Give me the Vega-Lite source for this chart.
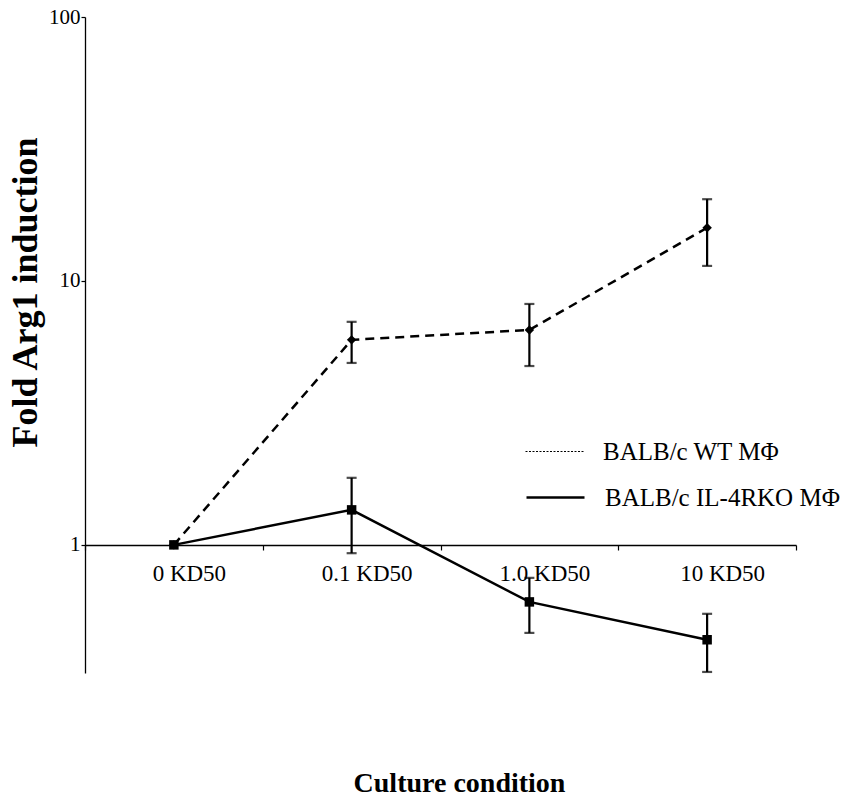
{
  "$schema": "https://vega.github.io/schema/vega-lite/v6.json",
  "width": 711,
  "height": 656,
  "autosize": {"type": "none"},
  "padding": {"left": 85, "top": 17, "right": 62, "bottom": 125},
  "background": "white",
  "config": {
    "view": {"stroke": null},
    "font": "Liberation Serif",
    "legend": {
      "orient": "none",
      "title": null,
      "padding": 0,
      "labelFont": "Liberation Serif",
      "labelFontSize": 25,
      "labelColor": "black",
      "labelOffset": 33.5,
      "labelLimit": 0,
      "symbolType": "M-2,0H2",
      "symbolSize": 841,
      "symbolStrokeColor": "black",
      "symbolFillColor": "transparent"
    }
  },
  "data": {
    "values": [
      {"condition": "0 KD50", "group": "BALB/c WT MΦ", "value": 1, "lo": null, "hi": null},
      {"condition": "0.1 KD50", "group": "BALB/c WT MΦ", "value": 5.98, "lo": 4.89, "hi": 7.0},
      {"condition": "1.0 KD50", "group": "BALB/c WT MΦ", "value": 6.52, "lo": 4.76, "hi": 8.18},
      {"condition": "10 KD50", "group": "BALB/c WT MΦ", "value": 15.9, "lo": 11.4, "hi": 20.4},
      {"condition": "0 KD50", "group": "BALB/c IL-4RKO MΦ", "value": 1, "lo": null, "hi": null},
      {"condition": "0.1 KD50", "group": "BALB/c IL-4RKO MΦ", "value": 1.357, "lo": 0.93, "hi": 1.795},
      {"condition": "1.0 KD50", "group": "BALB/c IL-4RKO MΦ", "value": 0.608, "lo": 0.464, "hi": 0.75},
      {"condition": "10 KD50", "group": "BALB/c IL-4RKO MΦ", "value": 0.437, "lo": 0.33, "hi": 0.548}
    ]
  },
  "encoding": {
    "x": {
      "field": "condition",
      "type": "nominal",
      "sort": ["0 KD50", "0.1 KD50", "1.0 KD50", "10 KD50"],
      "scale": {"type": "band", "paddingInner": 0, "paddingOuter": 0},
      "axis": {
        "orient": "bottom",
        "offset": -128,
        "title": "Culture condition",
        "titleFont": "Liberation Serif",
        "titleFontSize": 28,
        "titleFontWeight": "bold",
        "titleColor": "black",
        "titleX": 374,
        "titleY": 246,
        "titleBaseline": "alphabetic",
        "titleAlign": "center",
        "labelFont": "Liberation Serif",
        "labelFontSize": 23,
        "labelColor": "black",
        "labelAngle": 0,
        "labelPadding": 12,
        "labelOffset": 15,
        "tickBand": "extent",
        "tickSize": 5,
        "tickColor": "black",
        "tickWidth": 1.2,
        "domainColor": "black",
        "domainWidth": 1.3,
        "grid": false
      }
    },
    "y": {
      "field": "value",
      "type": "quantitative",
      "scale": {"type": "log", "domain": [0.327, 100], "nice": false},
      "axis": {
        "title": "Fold Arg1 induction",
        "titleFont": "Liberation Serif",
        "titleFontSize": 36,
        "titleFontWeight": "bold",
        "titleColor": "black",
        "titleAngle": -90,
        "titleX": -60,
        "titleY": 275,
        "titleAlign": "center",
        "titleBaseline": "middle",
        "values": [1, 10, 100],
        "labelExpr": "datum.value",
        "labelFont": "Liberation Serif",
        "labelFontSize": 21,
        "labelColor": "black",
        "labelPadding": 1,
        "tickSize": 4,
        "tickColor": "black",
        "tickWidth": 1.2,
        "domainColor": "black",
        "domainWidth": 1.3,
        "grid": false
      }
    }
  },
  "layer": [
    {
      "transform": [{"filter": "datum.group == 'BALB/c WT MΦ'"}],
      "mark": {"type": "line", "color": "black", "strokeWidth": 2.5, "strokeDash": [9, 6]},
      "encoding": {
        "opacity": {
          "field": "group",
          "type": "ordinal",
          "scale": {"domain": ["BALB/c WT MΦ"], "range": [1, 1]},
          "legend": {
            "legendX": 454.5,
            "legendY": 419.5,
            "symbolDash": [2, 1.5],
            "symbolStrokeWidth": 1,
            "symbolOpacity": 1
          }
        }
      }
    },
    {
      "transform": [{"filter": "datum.group == 'BALB/c IL-4RKO MΦ'"}],
      "mark": {"type": "line", "color": "black"},
      "encoding": {
        "strokeWidth": {
          "field": "group",
          "type": "ordinal",
          "scale": {"domain": ["BALB/c IL-4RKO MΦ"], "range": [2.5, 2.5]},
          "legend": {
            "legendX": 454.5,
            "legendY": 464.5,
            "symbolStrokeWidth": 2.2
          }
        }
      }
    },
    {
      "mark": {"type": "rule", "color": "black", "strokeWidth": 2.2},
      "encoding": {
        "y": {"field": "lo", "type": "quantitative"},
        "y2": {"field": "hi"}
      }
    },
    {
      "mark": {"type": "tick", "color": "black", "size": 10, "thickness": 2.2},
      "encoding": {"y": {"field": "lo", "type": "quantitative"}}
    },
    {
      "mark": {"type": "tick", "color": "black", "size": 10, "thickness": 2.2},
      "encoding": {"y": {"field": "hi", "type": "quantitative"}}
    },
    {
      "transform": [{"filter": "datum.group == 'BALB/c WT MΦ'"}],
      "mark": {"type": "point", "filled": true, "color": "black", "opacity": 1, "shape": "diamond", "size": 90}
    },
    {
      "transform": [{"filter": "datum.group == 'BALB/c IL-4RKO MΦ'"}],
      "mark": {"type": "point", "filled": true, "color": "black", "opacity": 1, "shape": "square", "size": 90}
    }
  ]
}
